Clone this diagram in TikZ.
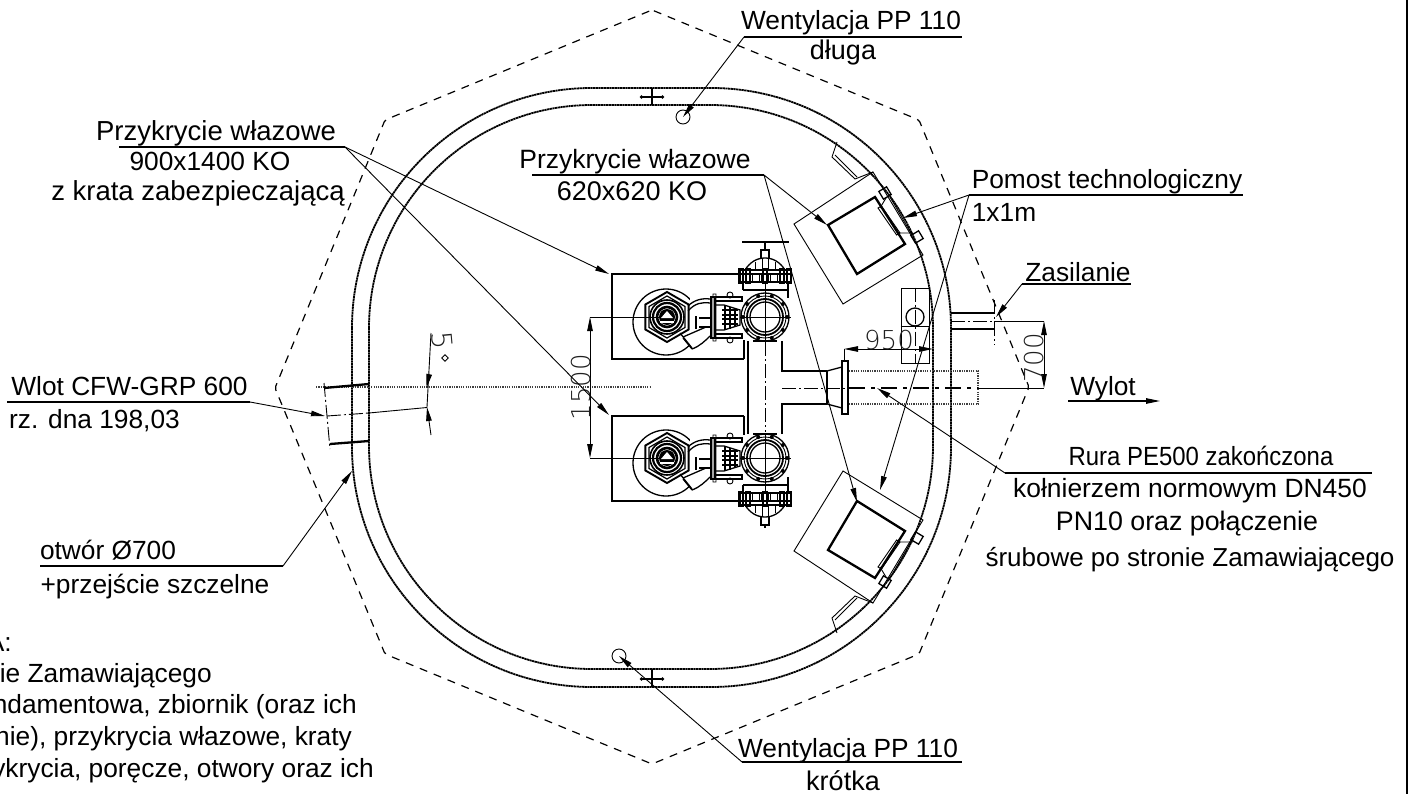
\documentclass[tikz,border=0pt]{standalone}
\usepackage{fontspec}
\setmainfont{Liberation Sans}
\newfontfamily\cadfont{DejaVu Sans ExtraLight}
\usetikzlibrary{arrows.meta,calc}
\newcommand{\fsz}[1]{\fontsize{#1}{#1}\selectfont}
\tikzset{
  thinl/.style={line width=0.9pt},
  med/.style={line width=1.3pt},
  thk/.style={line width=2.3pt},
  wall/.style={line width=1.8pt,dash pattern=on 2.2pt off 0.5pt},
  envelope/.style={line width=1.2pt,dash pattern=on 8pt off 7pt,rounded corners=2pt},
  ctr/.style={line width=0.9pt,dash pattern=on 14pt off 3pt on 2pt off 3pt},
  ctrb/.style={line width=1.2pt,dash pattern=on 16pt off 6pt on 4pt off 6pt},
  dotl/.style={line width=1.4pt,dash pattern=on 1.2pt off 1.1pt,black!75},
  tip/.style={-{Stealth[length=14pt,width=5.5pt,inset=0pt]}},
  tips/.style={{Stealth[length=14pt,width=5.5pt,inset=0pt]}-{Stealth[length=14pt,width=5.5pt,inset=0pt]}},
  leader/.style={line width=0.9pt},
  under/.style={line width=1.1pt},
  lab/.style={font=\fsz{26.3},inner sep=0pt,anchor=base},
  labe/.style={font=\fsz{26.3},inner sep=0pt,anchor=base east},
  dimt/.style={font=\cadfont\fsz{26},inner sep=0pt,black!88}
}
\newcommand{\hopperunit}{%
  \draw[med] (666,322) circle (33);
  \fill[white] (690,298) rectangle (709,345);
  \draw[line width=1.9pt] (667,292)--(688.6,304.5)--(688.6,329.5)--(667,342)--(645.4,329.5)--(645.4,304.5)--cycle;
  \draw[line width=1.2pt] (667,296)--(685,306.5)--(685,327.5)--(667,338)--(649,327.5)--(649,306.5)--cycle;
  \draw[line width=1.6pt] (667,317) circle (17);
  \draw[line width=2.2pt] (667,317) circle (14);
  \draw[line width=2.6pt] (667,317) circle (10);
  \fill (667,317) circle (8);
  \fill[white] (661,318)--(667,311)--(673,318)--cycle;
  \fill[white] (660,321) rectangle (674,323);
  \draw[med] (683,338)--(692,349) (680,333)--(692,348);
  \draw[med] (688,306) .. controls (694,300) and (702,298) .. (710,299);
  \draw[med] (688,311) .. controls (695,303) and (702,302) .. (710,303);
  \draw[med] (692,349) .. controls (700,346) and (705,341) .. (710,336);
  \draw[med] (683,337)--(706,327);
  \draw[med] (696,316)--(696,329) (699,318)--(710,318) (699,327)--(710,327);
  \draw[thk] (711,297) rectangle (715,338);
  \draw[med] (715,297) rectangle (742,301) (715,334) rectangle (742,338);
  \draw[thinl] (730,295) circle (3) (730,340) circle (3) (713,294) rectangle (716,341);
  \draw[med] (715,305)--(724,305)--(740,310)--(740,325)--(724,330)--(715,330);
  \draw[line width=2pt] (722,310)--(738,310) (722,314.5)--(738,314.5) (722,319)--(738,319) (722,323.5)--(738,323.5) (725,306)--(725,330) (730,307)--(730,329) (735,309)--(735,327);
}
\newcommand{\gatevalve}[1]{%
  \draw[line width=1.7pt] (743,290) -- (743,274) (788,282)--(788,298);
  \draw[med] (743,290)--(788,290);
  \draw[thinl] (765,342)--(765,282);
  \draw[thinl] (740,317)--(791,317);
  \draw[med] (765,317) circle (24);
  \draw[thinl] (765,317) circle (21);
  \draw[line width=1.8pt] (765,317) circle (18);
  \draw[med] (765,317) circle (15);
  \foreach \a in {0,36,...,324}{\fill ($(765,317)+(\a:22)$) circle (2);}
  \draw[med] (753,341)--(777,341);
  \draw[line width=2.3pt] (740,274)--(791,274);
  \draw[med] (740,270) rectangle (791,282);
  \foreach \q in {741,748,765,782,789}{\draw[med] (\q-2,269) rectangle (\q+2,283);}
  \foreach \q in {752,761,770}{\draw[thinl] (\q,274) rectangle (\q+7,282);}
  \draw[med] (745,270) .. controls (750,262) and (757,258) .. (765,258) .. controls (773,258) and (780,262) .. (785,270);
  \draw[thinl] (755,262)--(755,270) (775,262)--(775,270) (762,258)--(762,270) (768,258)--(768,270);
  \draw[med] (761,258)--(761,250)--(769,250)--(769,258);
  \draw[line width=1.8pt] (765,250)--(765,#1);
}
\newcommand{\platform}{%
  \draw[thinl] (794,224)--(873,172)--(923,255)--(843,304)--cycle;
  \draw[thk] (828,225)--(875,197)--(905,244)--(857,274)--cycle;
  \draw[thinl] (878,208)--(881.4,206)--(900,233)--(896.6,235)--cycle;
  \begin{scope}[shift={(885,193)},rotate=31]
    \draw[med] (-4.5,-4.5) rectangle (4.5,4.5);
  \end{scope}
  \begin{scope}[shift={(917,237)},rotate=31]
    \draw[med] (-4.5,-4.5) rectangle (4.5,4.5);
  \end{scope}
  \draw[thinl] (880,208)--(886,198) (897,233)--(913,233);
  \draw[thinl] (890,197)--(912,235);
  \draw[thinl] (837,142)--(832,157)--(855,179)--(873,172);
  \draw[thinl] (835,155)--(857,177);
}
\begin{document}
\begin{tikzpicture}[x=1pt,y=-1pt]
\useasboundingbox (0,0) rectangle (1410,794);
\clip (0,0) rectangle (1410,794);
% frame
\draw[line width=2.6pt] (1407,0)--(1407,794);
% envelope
\draw[envelope] (652,10)--(919,120)--(1029,387)--(919,654)--(652,764)--(385,654)--(275,388)--(385,120)--cycle;
% chamber walls
\draw[wall,rounded corners=240pt] (352,88) rectangle (951,687);
\draw[wall,rounded corners=223pt] (369,105) rectangle (933,669);
% marks
\foreach \yy/\ya/\yb in {97/88/105,679/669/687}{
  \draw[line width=1.8pt] (652,\ya)--(652,\yb);
  \draw[line width=1.8pt,{Circle[length=3pt]}-{Circle[length=3pt]}] (640,\yy)--(664,\yy);
}
% vent pipes
\node[draw,circle,thinl,inner sep=0pt,minimum size=14pt] (ventA) at (683,117) {};
\node[draw,circle,thinl,inner sep=0pt,minimum size=14pt] (ventB) at (619,656) {};
% centre line
\draw[dotl] (316,387)--(651,387);
% covers
\draw[thk] (744,274)--(612,274)--(612,359)--(744,359);
\draw[thk] (744,416)--(612,416)--(612,501)--(744,501);
\draw[thk] (744,359)--(744,340) (744,416)--(744,435);
\hopperunit
\begin{scope}[yshift=-141pt]\hopperunit\end{scope}
\gatevalve{242}
\begin{scope}[cm={1,0,0,-1,(0,775)}]\gatevalve{247}\end{scope}
\draw[line width=1.3pt] (742,242)--(789,242);
% manifold
\draw[thk] (748,341)--(748,434);
\draw[thk] (782,341)--(782,371)--(827,371) (782,434)--(782,404)--(827,404);
\draw[ctr] (765,342)--(765,432);
\draw[thk] (827,371)--(827,404);
\draw[med] (827,371)--(842,367) (827,404)--(842,408);
\draw[med] (842,361) rectangle (848,414);
\draw[dotl] (849,371)--(978,371)--(978,404)--(849,404);
\draw[ctr] (782,388)--(849,388);
\draw[ctrb] (849,388)--(978,388);
\draw[thinl] (978,388)--(1044,388);
% inlet
\draw[thk] (324,388)--(369,384) (330,444)--(369,441);
\draw[ctr] (324,383)--(330,449);
\draw[ctr] (327,416)--(369,413);
\draw[thinl] (369,413)--(427,407.5);
% angle dim
\coordinate (angA) at (431,333);
\coordinate (angB) at (427,407);
\coordinate (angC) at (431,435);
\draw[thinl] (angA)--(angB);
\draw[thinl,tip] ($(angA)!0.6!(angB)$)--(426.5,388);
\draw[thinl,tip] (angC)--(angB);
\node[dimt,font=\cadfont\fsz{28},rotate=-85] (five) at (442,341) {5};
\node[draw,thinl,rotate=45,inner sep=0pt,minimum size=4.5pt] (deg) at (445,358) {};
% platforms
\platform
\begin{scope}[cm={1,0,0,-1,(0,775)}]\platform\end{scope}
% vent box
\node[draw,thinl,inner sep=0pt,minimum width=28pt,minimum height=75pt] (vbox) at (915,325.5) {};
\draw[thinl] (vbox.west |- 0,326)--(vbox.east |- 0,326);
\node[draw,circle,med,inner sep=0pt,minimum size=18pt] (vcirc) at (915,317) {};
\draw[ctr] (vbox.north)--(vbox.south);
% supply stub
\draw[med] (951,313)--(994,313) (951,329)--(994,329);
\draw[ctr] (951,321)--(994,321);
\draw[ctr] (994,300)--(994,345);
\draw[thinl] (994,321)--(1044,321);
% dims
\coordinate (dA) at (590,317); \coordinate (dB) at (590,458);
\draw[thinl] (dA)--(660,317) (dB)--(660,458);
\draw[thinl,tips] (dA)--(dB);
\node[dimt,rotate=90] (d1500) at (581,387) {1500};
\coordinate (eA) at (844,349); \coordinate (eB) at (933,349);
\draw[thinl] (eA)--(844,361);
\draw[thinl,tips] (eA)--(eB);
\node[dimt,anchor=base] (d950) at (889,349) {950};
\coordinate (fA) at (1044,321); \coordinate (fB) at (1044,388);
\draw[thinl,tips] (fA)--(fB);
\node[dimt,rotate=90] (d700) at (1034,358) {700};
% texts and leaders
\node[lab] (t1) at (851,30) {Wentylacja PP 110};
\node[lab,font=\fsz{27}] (t1b) at (843,60) {długa};
\coordinate (u1a) at (744,37); \coordinate (u1b) at (962,37);
\draw[under] (u1a)--(u1b);
\draw[leader,tip] (u1a)--(ventA.center);

\node[lab,font=\fsz{27.5}] (t2) at (216,141) {Przykrycie włazowe};
\node[lab] (t2b) at (210,171) {900x1400 KO};
\node[lab,font=\fsz{27.5}] (t2c) at (198,201) {z krata zabezpieczającą};
\coordinate (u2a) at (119,147); \coordinate (u2b) at (345,147);
\draw[under] (u2a)--(u2b);
\coordinate (c2a) at (609,274); \coordinate (c2b) at (609,415);
\draw[leader,tip] (u2b)--(c2a);
\draw[leader,tip] (u2b)--(c2b);

\node[lab,font=\fsz{26.5}] (t3) at (635,169) {Przykrycie włazowe};
\node[lab,font=\fsz{27}] (t3b) at (632,201) {620x620 KO};
\coordinate (u3a) at (532,175); \coordinate (u3b) at (764,175);
\draw[under] (u3a)--(u3b);
\coordinate (c3a) at (827,225); \coordinate (c3b) at (857,502);
\draw[leader,tip] (u3b)--(c3a);
\draw[leader,tip] (u3b)--(c3b);

\node[lab] (t4) at (1107,189) {Pomost technologiczny};
\node[lab] (t4b) at (1004,222) {1x1m};
\coordinate (u4a) at (969,195); \coordinate (u4b) at (1243,195);
\draw[under] (u4a)--(u4b);
\coordinate (c4a) at (903,218); \coordinate (c4b) at (880,490);
\draw[leader,tip] (u4a)--(c4a);
\draw[leader,tip] (u4a)--(c4b);

\node[lab] (t5) at (1078,281) {Zasilanie};
\coordinate (u5a) at (1022,284); \coordinate (u5b) at (1131,284); \coordinate (c5) at (996,317);
\draw[under] (u5a)--(u5b);
\draw[leader,tip] (u5a)--(c5);

\node[lab] (t6) at (1103,395) {Wylot};
\coordinate (u6a) at (1068,401); \coordinate (u6b) at (1160,401);
\draw[under,tip] (u6a)--(u6b);

\node[lab] (t7) at (1201,465) {\addfontfeature{FakeStretch=0.91}Rura PE500 zakończona};
\node[lab,font=\fsz{26.4}] (t7b) at (1190,497) {kołnierzem normowym DN450};
\node[lab,font=\fsz{26.8}] (t7c) at (1187,530) {PN10 oraz połączenie};
\node[lab,font=\fsz{26}] (t7d) at (1190,566) {śrubowe po stronie Zamawiającego};
\coordinate (u7a) at (1005,473); \coordinate (u7b) at (1372,473); \coordinate (c7) at (877,388);
\draw[under] (u7a)--(u7b);
\draw[leader,tip] (u7a)--(c7);

\node[lab] (t8) at (129.5,395) {Wlot CFW-GRP 600};
\node[lab] (t8b) at (94.5,428) {rz. dna 198,03};
\coordinate (u8a) at (7,402); \coordinate (u8b) at (250,402); \coordinate (c8) at (325,416);
\draw[under] (u8a)--(u8b);
\draw[leader,tip] (u8b)--(c8);

\node[lab] (t9) at (108,559) {otwór Ø700};
\node[lab] (t9b) at (155,593) {+przejście szczelne};
\coordinate (u9a) at (40,566); \coordinate (u9b) at (283,566); \coordinate (c9) at (352,471);
\draw[under] (u9a)--(u9b);
\draw[leader,tip] (u9b)--(c9);

\node[lab] (t10) at (848,757) {Wentylacja PP 110};
\node[lab,font=\fsz{27}] (t10b) at (843,790) {krótka};
\coordinate (u10a) at (742,762); \coordinate (u10b) at (962,762);
\draw[under] (u10a)--(u10b);
\draw[leader,tip] (u10a)--(ventB.center);

\node[labe] (n1) at (12,651) {A:};
\node[labe] (n2) at (212,682) {ie Zamawiającego};
\node[labe] (n3) at (357,713) {ndamentowa, zbiornik (oraz ich};
\node[labe] (n4) at (352,745) {nie), przykrycia włazowe, kraty};
\node[labe] (n5) at (374,777) {ykrycia, poręcze, otwory oraz ich};
\end{tikzpicture}
\end{document}
